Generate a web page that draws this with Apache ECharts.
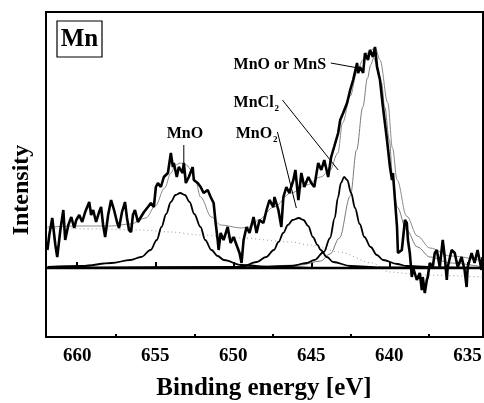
<!DOCTYPE html>
<html><head><meta charset="utf-8">
<script src="https://cdn.jsdelivr.net/npm/echarts@6/dist/echarts.min.js"></script>
<style>html,body{margin:0;padding:0;background:#fff}#c{width:484px;height:403px}</style>
</head><body><div id="c"></div>
<script>
// Binding energy (eV) and intensity (arb. units, fitted baseline = 0)
const spectrumPoints = [[661.91,18],[661.79,33],[661.60,50],[661.40,23],[661.28,11],[661.08,38],[660.89,58],[660.77,28],[660.57,43],[660.38,51],[660.19,40],[660.06,48],[659.87,53],[659.68,46],[659.49,56],[659.23,66],[659.11,53],[658.98,58],[658.79,46],[658.60,56],[658.47,61],[658.34,43],[658.21,31],[658.02,53],[657.83,68],[657.64,58],[657.45,46],[657.32,40],[657.13,56],[656.94,66],[656.81,50],[656.68,38],[656.55,36],[656.43,53],[656.30,58],[656.11,46],[655.92,51],[655.72,56],[655.47,61],[655.28,65],[655.09,61],[654.96,81],[654.83,85],[654.64,81],[654.45,91],[654.19,95],[654.00,115],[653.87,101],[653.81,105],[653.62,91],[653.49,101],[653.24,95],[653.17,105],[653.04,85],[652.85,91],[652.60,101],[652.53,88],[652.28,85],[652.09,81],[651.90,75],[651.64,78],[651.45,71],[651.26,65],[651.13,45],[651.00,28],[650.94,18],[650.81,35],[650.62,28],[650.36,41],[650.17,25],[649.98,31],[649.79,23],[649.60,15],[649.47,5],[649.34,28],[649.15,41],[648.96,35],[648.70,51],[648.51,35],[648.32,48],[648.07,45],[647.87,58],[647.68,68],[647.43,61],[647.36,71],[647.11,58],[646.92,41],[646.79,71],[646.60,81],[646.41,75],[646.15,88],[646.02,98],[645.83,68],[645.64,95],[645.45,81],[645.19,91],[645.00,85],[644.81,81],[644.56,105],[644.36,98],[644.17,108],[643.92,91],[643.73,111],[643.54,121],[643.28,135],[643.15,148],[642.96,155],[642.71,165],[642.51,178],[642.32,188],[642.07,205],[642.00,195],[641.88,201],[641.68,195],[641.56,215],[641.37,208],[641.24,218],[641.05,211],[640.92,221],[640.79,201],[640.60,188],[640.41,161],[640.15,128],[639.96,101],[639.83,88],[639.77,95],[639.64,68],[639.51,41],[639.45,15],[639.20,18],[639.00,48],[638.88,45],[638.81,28],[638.69,15],[638.56,-9],[638.49,1],[638.24,-12],[638.05,-5],[637.92,-22],[637.86,-9],[637.73,-25],[637.60,-12],[637.54,-9],[637.41,5],[637.22,1],[637.09,15],[636.96,18],[636.77,1],[636.58,28],[636.45,11],[636.32,-12],[636.26,1],[636.01,18],[635.81,15],[635.62,1],[635.37,11],[635.18,-2],[635.05,-19],[634.98,1],[634.73,15],[634.54,5],[634.35,18],[634.09,-2],[634.03,11]];

// Fitted components
const peakMnO = [[661.9,1],[659.7,2],[657.8,5],[656.6,8],[655.9,11],[655.3,18],[654.9,28],[654.6,41],[654.3,54],[654.0,66],[653.7,73],[653.4,75],[653.1,73],[652.8,66],[652.5,54],[652.1,41],[651.8,28],[651.4,18],[651.0,12],[650.6,8],[649.5,3],[647.6,1],[644.4,0],[634.0,0]];
const peakMnO2 = [[661.9,0],[649.5,1],[648.5,6],[647.9,11],[647.4,18],[647.1,26],[646.8,35],[646.5,43],[646.2,48],[645.8,50],[645.5,48],[645.2,42],[644.9,31],[644.6,23],[644.4,18],[644.0,11],[643.6,6],[642.5,2],[640.6,0.5],[634.0,0]];
const peakMnCl2 = [[661.9,0],[649.5,0.5],[646.3,2],[645.3,5],[644.8,8],[644.2,16],[643.8,30],[643.5,50],[643.3,70],[643.1,85],[642.9,91],[642.7,88],[642.45,75],[642.2,60],[641.9,44],[641.6,31],[641.2,21],[640.8,13],[640.4,8],[639.5,4],[638.9,2],[636.8,0.5],[634.0,0]];
const peakMnOMnS = [[661.9,0],[649.5,0.5],[645.7,3],[644.4,7],[643.8,14],[643.2,30],[642.5,72],[642.1,118],[641.7,161],[641.4,190],[641.2,203],[641.0,210],[640.8,203],[640.5,185],[640.3,161],[640.0,128],[639.8,92],[639.5,61],[638.9,38],[638.2,21],[637.4,11],[636.1,5],[634.0,1]];
const envelopeFit = [[661.9,41],[659.7,42],[657.8,42],[656.6,44],[655.6,50],[655.0,62],[654.4,80],[654.0,95],[653.7,103],[653.4,105],[653.0,103],[652.7,98],[652.4,86],[652.1,71],[651.4,51],[650.8,43],[649.5,40],[648.9,41],[648.4,48],[647.4,61],[646.3,75],[645.3,83],[644.4,91],[643.8,98],[643.3,115],[643.0,145],[642.5,172],[642.1,195],[641.7,208],[641.2,218],[640.9,220],[640.6,208],[640.1,165],[639.8,120],[639.5,88],[638.9,52],[638.2,32],[637.4,20],[636.1,12],[634.0,7]];
const backgroundFit = [[661.9,40],[658.5,39],[655.9,38],[654.0,36],[652.1,33],[649.5,30],[646.3,26],[645.1,23],[643.2,16],[641.1,5],[640.0,-4],[637.9,-7],[634.0,-9]];
const baseline = [[662,0],[634,0]];

const majorTicks = [660, 655, 650, 645, 640, 635];
const minorTicks = [657.5, 652.5, 647.5, 642.5, 637.5];

const annotations = [
  {text:'MnO or MnS', sub:'', align:'left', at:[649.98,203], from:[643.75,205], to:[642.0,200]},
  {text:'MnCl', sub:'2', align:'left', at:[649.98,165], from:[646.85,168], to:[643.28,98]},
  {text:'MnO', sub:'2', align:'left', at:[649.85,134], from:[647.17,136], to:[645.96,60]},
  {text:'MnO', sub:'', align:'center', at:[653.1,134], from:[653.17,123], to:[653.17,95]}
];

const SERIF = '"Liberation Serif","Times New Roman",serif';
const chart = echarts.init(document.getElementById('c'), null, {renderer:'canvas'});

function lineSeries(data, color, width, type, smooth, z) {
  return {type:'line', data, showSymbol:false, symbol:'none', smooth: smooth, smoothMonotone:'x',
    lineStyle:{color, width, type: type || 'solid'}, z: z, animation:false, silent:true};
}

chart.setOption({
  animation:false,
  backgroundColor:'#fff',
  grid:{left:46, right:1, top:12, bottom:66, containLabel:false, outerBoundsMode:'none',
        show:true, borderColor:'#000', borderWidth:2, backgroundColor:'transparent'},
  xAxis:[
    {type:'value', min:634, max:662, inverse:true, position:'bottom',
      axisLine:{show:false}, splitLine:{show:false},
      axisTick:{show:true, inside:true, length:6, lineStyle:{color:'#000', width:2}, customValues: majorTicks},
      axisLabel:{show:true, customValues: majorTicks, margin:10, color:'#000', fontFamily:SERIF, fontWeight:'bold', fontSize:19, hideOverlap:false}},
    {type:'value', min:634, max:662, inverse:true, position:'bottom',
      axisLine:{show:false}, splitLine:{show:false},
      axisTick:{show:true, inside:true, length:3, lineStyle:{color:'#000', width:2}, customValues: minorTicks},
      axisLabel:{show:false}}
  ],
  yAxis:{type:'value', min:-69, max:256, axisLine:{show:false}, axisTick:{show:false}, axisLabel:{show:false}, splitLine:{show:false}},
  series:[
    lineSeries(backgroundFit, '#9a9a9a', 1, [1,3], 0.3, 2),
    lineSeries(envelopeFit, '#8a8a8a', 1, 'solid', 0.35, 3),
    lineSeries(peakMnOMnS, '#7a7a7a', 1, 'solid', 0.35, 3),
    lineSeries(baseline, '#000', 2.5, 'solid', false, 4),
    lineSeries(peakMnO, '#000', 1.8, 'solid', 0.35, 5),
    lineSeries(peakMnO2, '#000', 1.8, 'solid', 0.35, 5),
    lineSeries(peakMnCl2, '#000', 1.8, 'solid', 0.35, 5),
    lineSeries(spectrumPoints, '#000', 2.6, 'solid', false, 6)
  ]
});

const px = p => chart.convertToPixel({gridIndex:0}, p);
const graphics = [];
annotations.forEach(a => {
  const p = px(a.at), f = px(a.from), t = px(a.to);
  graphics.push({type:'text', x:p[0], y:p[1], z:20, style:{
    text: a.sub ? '{m|' + a.text + '}{s|' + a.sub + '}' : '{m|' + a.text + '}',
    align:a.align, verticalAlign:'middle',
    rich:{m:{fontFamily:SERIF, fontWeight:'bold', fontSize:16, fill:'#000'},
          s:{fontFamily:SERIF, fontWeight:'bold', fontSize:9, fill:'#000', padding:[11,0,0,1]}}}});
  graphics.push({type:'line', z:20, shape:{x1:f[0], y1:f[1], x2:t[0], y2:t[1]}, style:{stroke:'#000', lineWidth:1}});
});
graphics.push({type:'rect', z:20, shape:{x:57, y:21, width:45, height:36}, style:{fill:'#fff', stroke:'#000', lineWidth:1.2}});
graphics.push({type:'text', z:21, x:79.5, y:40, style:{text:'Mn', align:'center', verticalAlign:'middle', font:'bold 25px ' + SERIF, fill:'#000'}});
graphics.push({type:'text', z:21, x:22, y:190, rotation:Math.PI/2, style:{text:'Intensity', align:'center', verticalAlign:'middle', font:'bold 24px ' + SERIF, fill:'#000'}});
graphics.push({type:'text', z:21, x:264, y:389, style:{text:'Binding energy [eV]', align:'center', verticalAlign:'middle', font:'bold 25px ' + SERIF, fill:'#000'}});
chart.setOption({graphic: graphics});
</script>
</body></html>
